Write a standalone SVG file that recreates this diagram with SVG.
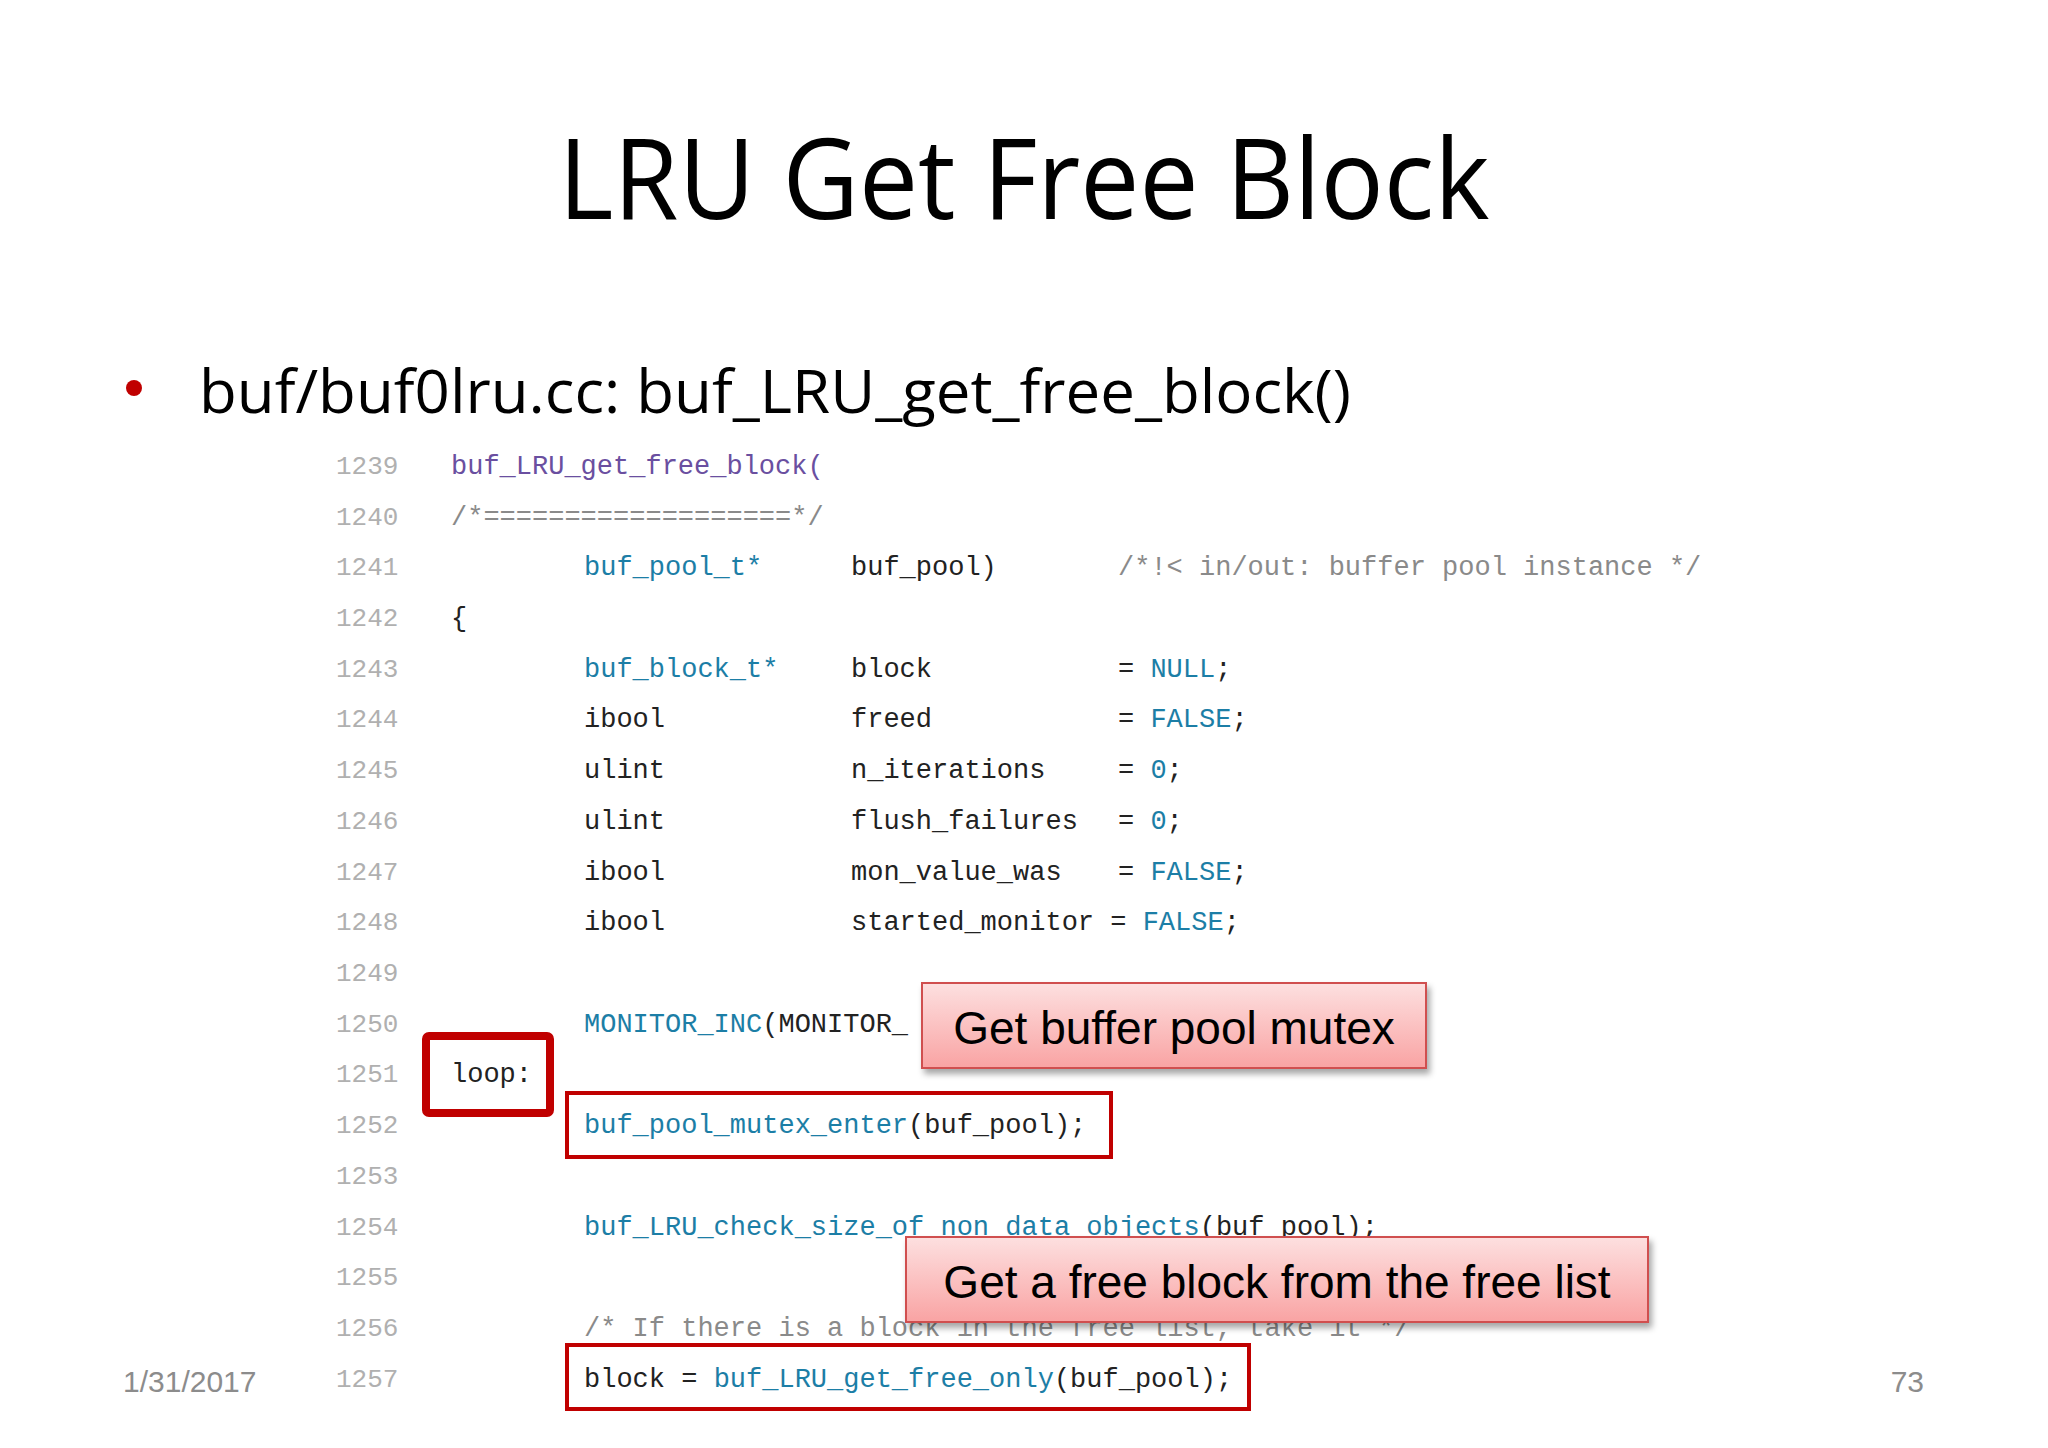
<svg xmlns="http://www.w3.org/2000/svg" width="2048" height="1448" viewBox="0 0 2048 1448">
<defs>
<linearGradient id="pk" x1="0" y1="0" x2="0" y2="1"><stop offset="0" stop-color="#fde0e0"/><stop offset="1" stop-color="#f9a3a3"/></linearGradient>
<filter id="sh" x="-5%" y="-10%" width="115%" height="130%"><feDropShadow dx="3" dy="5" stdDeviation="3" flood-color="#000" flood-opacity="0.35"/></filter>
<style>
.ln{font-family:"Liberation Mono",monospace;font-size:26px;fill:#b0b0b0}
.c{font-family:"Liberation Mono",monospace;font-size:27px;fill:#222}
.f{fill:#6a4fa0}.t{fill:#1c7ea6}.cm{fill:#8a8a8a}
.box{fill:none;stroke:#c00000}
.call{fill:url(#pk);stroke:#d05050;stroke-width:2;filter:url(#sh)}
.ct{font-family:"Liberation Sans",Arial,sans-serif;font-size:46px;fill:#000;text-anchor:middle}
.ft{font-family:"Liberation Sans",Arial,sans-serif;font-size:30px;fill:#8c8c8c}
</style>
</defs>
<rect width="2048" height="1448" fill="#fff"/>
<text x="1024" y="219" text-anchor="middle" font-family="Open Sans,Liberation Sans,sans-serif" font-size="112" fill="#000" textLength="931" lengthAdjust="spacingAndGlyphs">LRU Get Free Block</text>
<circle cx="134" cy="388" r="8" fill="#c00000"/>
<text x="199" y="413" font-family="Open Sans,Liberation Sans,sans-serif" font-size="60" fill="#000" textLength="1152" lengthAdjust="spacingAndGlyphs">buf/buf0lru.cc: buf_LRU_get_free_block()</text>
<g id="linenums" class="ln">
<text x="336" y="474">1239</text><text x="336" y="525">1240</text><text x="336" y="575">1241</text><text x="336" y="626">1242</text><text x="336" y="677">1243</text><text x="336" y="727">1244</text><text x="336" y="778">1245</text><text x="336" y="829">1246</text><text x="336" y="880">1247</text><text x="336" y="930">1248</text><text x="336" y="981">1249</text><text x="336" y="1032">1250</text><text x="336" y="1082">1251</text><text x="336" y="1133">1252</text><text x="336" y="1184">1253</text><text x="336" y="1235">1254</text><text x="336" y="1285">1255</text><text x="336" y="1336">1256</text><text x="336" y="1387">1257</text>
</g>
<g id="code" class="c">
<text x="451" y="474" class="f">buf_LRU_get_free_block(</text>
<text x="451" y="525" class="cm">/*===================*/</text>
<text x="584" y="575" class="t">buf_pool_t*</text><text x="851" y="575">buf_pool)</text><text x="1118" y="575" class="cm">/*!&lt; in/out: buffer pool instance */</text>
<text x="451" y="626">{</text>
<text x="584" y="677" class="t">buf_block_t*</text><text x="851" y="677">block</text><text x="1118" y="677">= <tspan class="t">NULL</tspan>;</text>
<text x="584" y="727">ibool</text><text x="851" y="727">freed</text><text x="1118" y="727">= <tspan class="t">FALSE</tspan>;</text>
<text x="584" y="778">ulint</text><text x="851" y="778">n_iterations</text><text x="1118" y="778">= <tspan class="t">0</tspan>;</text>
<text x="584" y="829">ulint</text><text x="851" y="829">flush_failures</text><text x="1118" y="829">= <tspan class="t">0</tspan>;</text>
<text x="584" y="880">ibool</text><text x="851" y="880">mon_value_was</text><text x="1118" y="880">= <tspan class="t">FALSE</tspan>;</text>
<text x="584" y="930">ibool</text><text x="851" y="930">started_monitor = <tspan class="t">FALSE</tspan>;</text>
<text x="584" y="1032"><tspan class="t">MONITOR_INC</tspan>(MONITOR_</text>
<text x="451" y="1082">loop:</text>
<text x="584" y="1133"><tspan class="t">buf_pool_mutex_enter</tspan>(buf_pool);</text>
<text x="584" y="1235"><tspan class="t">buf_LRU_check_size_of_non_data_objects</tspan>(buf_pool);</text>
<text x="584" y="1336" class="cm">/* If there is a block in the free list, take it */</text>
<text x="584" y="1387">block = <tspan class="t">buf_LRU_get_free_only</tspan>(buf_pool);</text>
</g>
<g id="loopbox"><rect class="box" x="426" y="1036" width="124" height="77" stroke-width="8" rx="3"/></g>
<g id="mutexbox"><rect class="box" x="567" y="1093" width="544" height="64" stroke-width="4"/></g>
<g id="freeonlybox"><rect class="box" x="567" y="1345" width="682" height="64" stroke-width="4"/></g>
<g id="callout1"><rect class="call" x="922" y="983" width="504" height="85"/><text class="ct" x="1174" y="1044">Get buffer pool mutex</text></g>
<g id="callout2"><rect class="call" x="906" y="1237" width="742" height="85"/><text class="ct" x="1277" y="1298">Get a free block from the free list</text></g>
<g id="connectors"/>
<text class="ft" x="123" y="1392">1/31/2017</text>
<text class="ft" x="1924" y="1392" text-anchor="end">73</text>
</svg>
